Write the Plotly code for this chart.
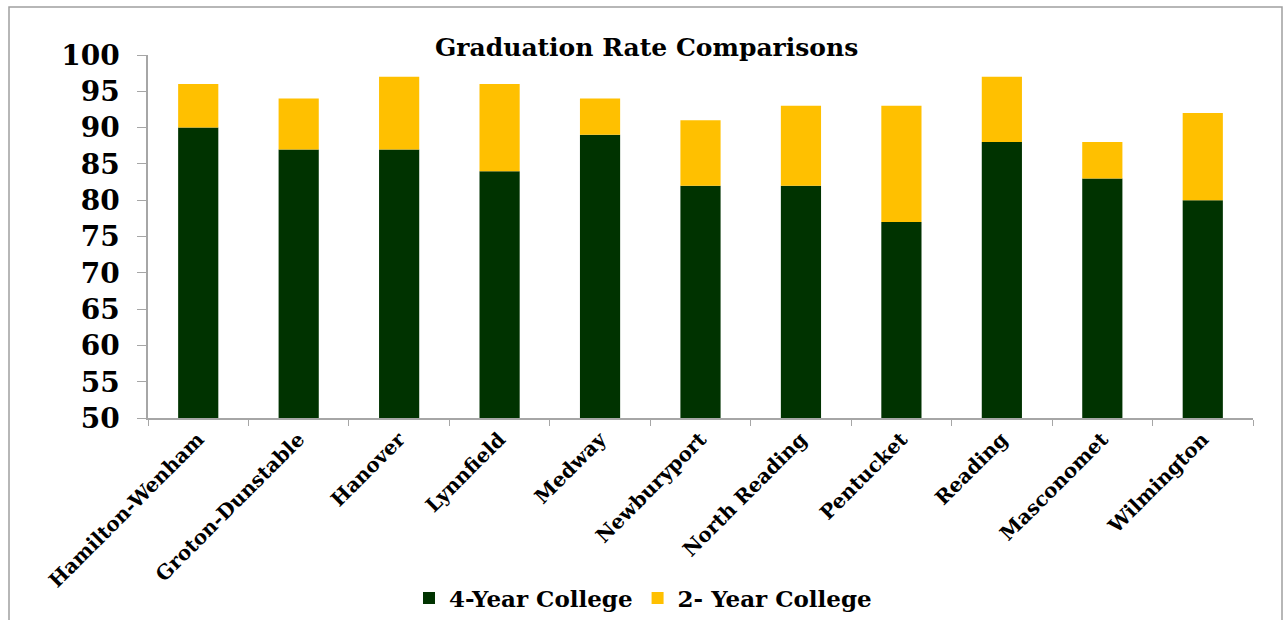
import plotly.graph_objects as go

districts = ["Hamilton-Wenham", "Groton-Dunstable", "Hanover", "Lynnfield", "Medway",
             "Newburyport", "North Reading", "Pentucket", "Reading", "Masconomet", "Wilmington"]
four_year = [90, 87, 87, 84, 89, 82, 82, 77, 88, 83, 80]
two_year = [6, 7, 10, 12, 5, 9, 11, 16, 9, 5, 12]
y_ticks = [50, 55, 60, 65, 70, 75, 80, 85, 90, 95, 100]

FONT = "DejaVu Serif"
W, H = 1284, 620
L, R, T, B = 148, 31, 55, 202
pw, ph = W - L - R, H - T - B

fig = go.Figure()
fig.add_trace(go.Bar(x=districts, y=[v - 50 for v in four_year], base=50,
                     name="4-Year College", marker=dict(color="#003300", line=dict(width=0)),
                     hoverinfo="skip"))
fig.add_trace(go.Bar(x=districts, y=two_year, base=four_year,
                     name="2- Year College", marker=dict(color="#FFC000", line=dict(width=0)),
                     hoverinfo="skip"))

def px_x(p):
    return (p - L) / pw

def px_y(p):
    return (H - B - p) / ph

fig.update_layout(
    width=W, height=H,
    margin=dict(l=L, r=R, t=T, b=B, autoexpand=False),
    paper_bgcolor="white", plot_bgcolor="white",
    barmode="overlay", bargap=0.6,
    font=dict(family=FONT, color="black"),
    showlegend=True,
    legend=dict(orientation="h", x=px_x(643), xanchor="center", y=px_y(598), yanchor="middle",
                font=dict(family=FONT, size=23, color="black", weight="bold"),
                itemsizing="constant", traceorder="normal", itemwidth=30),
    xaxis=dict(type="category", showline=True, linecolor="#A6A6A6", linewidth=1.5,
               ticks="outside", tickson="boundaries", ticklen=6, tickcolor="#A6A6A6",
               tickangle=-45, tickfont=dict(family=FONT, size=20, color="black", weight="bold"),
               showgrid=False),
    yaxis=dict(range=[50, 100], tickvals=y_ticks, showline=True, linecolor="#A6A6A6", linewidth=1.5,
               ticks="outside", ticklen=9, tickcolor="#A6A6A6", showgrid=False, zeroline=False,
               ticklabelstandoff=12,
               tickfont=dict(family=FONT, size=28, color="black", weight="bold")),
    annotations=[dict(text="Graduation Rate Comparisons", xref="paper", yref="paper",
                      x=px_x(646), y=px_y(48), xanchor="center", yanchor="middle", showarrow=False,
                      font=dict(family=FONT, size=25, color="black", weight="bold"))],
    shapes=[dict(type="rect", xref="paper", yref="paper",
                 x0=px_x(9), x1=px_x(1282), y0=px_y(640), y1=px_y(7),
                 line=dict(color="#A0A0A0", width=1.5), layer="below")],
)

fig.write_html("out.html", config={"displayModeBar": False},
               post_script="document.body.style.margin='0px';document.body.style.overflow='hidden';")
